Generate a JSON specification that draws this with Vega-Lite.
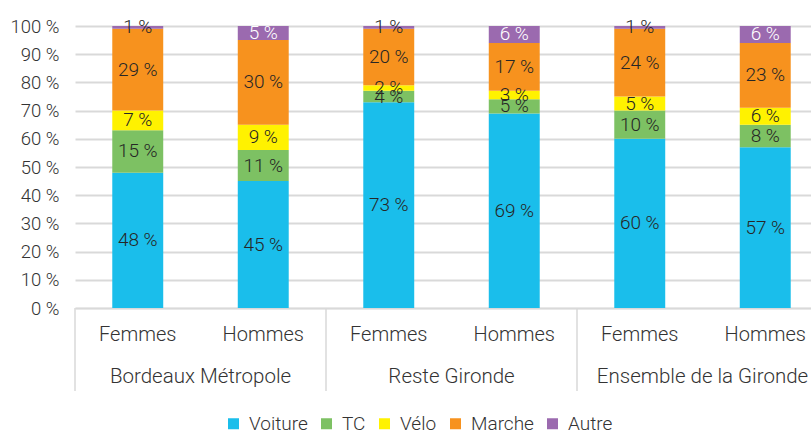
{
  "$schema": "https://vega.github.io/schema/vega-lite/v6.json",
  "width": 736,
  "height": 282,
  "autosize": {"type": "none"},
  "padding": {"left": 75, "top": 26, "right": 0, "bottom": 122},
  "background": "white",
  "config": {
    "font": "Roboto",
    "view": {"stroke": null},
    "axis": {"labelFont": "Roboto", "labelFontSize": 18, "labelFontWeight": 300, "labelColor": "#333333"},
    "legend": {"labelFont": "Roboto", "labelFontSize": 19, "labelFontWeight": 300, "labelColor": "#333333"}
  },
  "resolve": {"scale": {"x": "independent", "y": "independent"}, "axis": {"x": "independent", "y": "independent"}},
  "layer": [
    {
      "data": {
        "values": [
          {"zone": "Bordeaux Métropole", "sexe": "Femmes", "mode": "Voiture", "v": 48},
          {"zone": "Bordeaux Métropole", "sexe": "Femmes", "mode": "TC", "v": 15},
          {"zone": "Bordeaux Métropole", "sexe": "Femmes", "mode": "Vélo", "v": 7},
          {"zone": "Bordeaux Métropole", "sexe": "Femmes", "mode": "Marche", "v": 29},
          {"zone": "Bordeaux Métropole", "sexe": "Femmes", "mode": "Autre", "v": 1},
          {"zone": "Bordeaux Métropole", "sexe": "Hommes", "mode": "Voiture", "v": 45},
          {"zone": "Bordeaux Métropole", "sexe": "Hommes", "mode": "TC", "v": 11},
          {"zone": "Bordeaux Métropole", "sexe": "Hommes", "mode": "Vélo", "v": 9},
          {"zone": "Bordeaux Métropole", "sexe": "Hommes", "mode": "Marche", "v": 30},
          {"zone": "Bordeaux Métropole", "sexe": "Hommes", "mode": "Autre", "v": 5},
          {"zone": "Reste Gironde", "sexe": "Femmes", "mode": "Voiture", "v": 73},
          {"zone": "Reste Gironde", "sexe": "Femmes", "mode": "TC", "v": 4},
          {"zone": "Reste Gironde", "sexe": "Femmes", "mode": "Vélo", "v": 2},
          {"zone": "Reste Gironde", "sexe": "Femmes", "mode": "Marche", "v": 20},
          {"zone": "Reste Gironde", "sexe": "Femmes", "mode": "Autre", "v": 1},
          {"zone": "Reste Gironde", "sexe": "Hommes", "mode": "Voiture", "v": 69},
          {"zone": "Reste Gironde", "sexe": "Hommes", "mode": "TC", "v": 5},
          {"zone": "Reste Gironde", "sexe": "Hommes", "mode": "Vélo", "v": 3},
          {"zone": "Reste Gironde", "sexe": "Hommes", "mode": "Marche", "v": 17},
          {"zone": "Reste Gironde", "sexe": "Hommes", "mode": "Autre", "v": 6},
          {"zone": "Ensemble de la Gironde", "sexe": "Femmes", "mode": "Voiture", "v": 60},
          {"zone": "Ensemble de la Gironde", "sexe": "Femmes", "mode": "TC", "v": 10},
          {"zone": "Ensemble de la Gironde", "sexe": "Femmes", "mode": "Vélo", "v": 5},
          {"zone": "Ensemble de la Gironde", "sexe": "Femmes", "mode": "Marche", "v": 24},
          {"zone": "Ensemble de la Gironde", "sexe": "Femmes", "mode": "Autre", "v": 1},
          {"zone": "Ensemble de la Gironde", "sexe": "Hommes", "mode": "Voiture", "v": 57},
          {"zone": "Ensemble de la Gironde", "sexe": "Hommes", "mode": "TC", "v": 8},
          {"zone": "Ensemble de la Gironde", "sexe": "Hommes", "mode": "Vélo", "v": 6},
          {"zone": "Ensemble de la Gironde", "sexe": "Hommes", "mode": "Marche", "v": 23},
          {"zone": "Ensemble de la Gironde", "sexe": "Hommes", "mode": "Autre", "v": 6}
        ]
      },
      "transform": [
        {"calculate": "datum.zone + '|' + datum.sexe", "as": "key"},
        {"calculate": "indexof(['Voiture','TC','Vélo','Marche','Autre'], datum.mode)", "as": "ord"},
        {"stack": "v", "groupby": ["key"], "sort": [{"field": "ord", "order": "ascending"}], "offset": "normalize", "as": ["y0", "y1"]},
        {"calculate": "(datum.y0 + datum.y1) / 2", "as": "ymid"},
        {"calculate": "datum.v + ' %'", "as": "lab"}
      ],
      "encoding": {
        "x": {
          "field": "key", "type": "nominal", "sort": null, "title": null,
          "scale": {"range": [0, 753], "paddingInner": 0.594, "paddingOuter": 0.297},
          "axis": {
            "labelExpr": "split(datum.label, '|')[1]",
            "labelAngle": 0, "ticks": false, "labelPadding": 16, "labelFontSize": 20,
            "domainColor": "#d9d9d9", "domainWidth": 1.5, "grid": false
          }
        }
      },
      "layer": [
        {
          "mark": {"type": "bar"},
          "encoding": {
            "y": {
              "field": "y0", "type": "quantitative", "title": null,
              "scale": {"domain": [0, 1], "nice": false},
              "axis": {
                "values": [0, 0.1, 0.2, 0.3, 0.4, 0.5, 0.6, 0.7, 0.8, 0.9, 1],
                "labelExpr": "format(datum.value * 100, 'd') + ' %'",
                "labelOverlap": false, "labelFlush": false, "labelFontSize": 18.5,
                "domain": false, "ticks": false, "labelPadding": 16,
                "gridColor": "#d9d9d9", "gridWidth": 2
              }
            },
            "y2": {"field": "y1"},
            "color": {
              "field": "mode", "type": "nominal", "title": null,
              "scale": {
                "domain": ["Voiture", "TC", "Vélo", "Marche", "Autre"],
                "range": ["#1ABEEB", "#7DC163", "#FFF200", "#F7921E", "#9B6AAF"]
              },
              "legend": {
                "orient": "none", "direction": "horizontal", "legendX": 149, "legendY": 388,
                "symbolType": "square", "symbolSize": 121, "symbolStrokeWidth": 0,
                "symbolOpacity": 1, "columnPadding": 9, "labelOffset": 6
              }
            }
          }
        },
        {
          "mark": {"type": "text", "fontSize": 19, "fontWeight": 300, "font": "Roboto", "baseline": "middle"},
          "encoding": {
            "y": {
              "field": "ymid", "type": "quantitative", "title": null,
              "axis": {
                "values": [0, 0.1, 0.2, 0.3, 0.4, 0.5, 0.6, 0.7, 0.8, 0.9, 1],
                "labelExpr": "format(datum.value * 100, 'd') + ' %'",
                "labelOverlap": false, "labelFlush": false, "labelFontSize": 18.5,
                "domain": false, "ticks": false, "labelPadding": 16,
                "gridColor": "#d9d9d9", "gridWidth": 2
              }
            },
            "text": {"field": "lab"},
            "color": {
              "condition": {"test": "datum.mode === 'Autre' && datum.v >= 5", "value": "#ffffff"},
              "value": "#262626"
            }
          }
        }
      ]
    },
    {
      "data": {
        "values": [
          {"zone": "Bordeaux Métropole"},
          {"zone": "Reste Gironde"},
          {"zone": "Ensemble de la Gironde"}
        ]
      },
      "encoding": {
        "x": {
          "field": "zone", "type": "nominal", "sort": null, "axis": null,
          "scale": {"range": [0, 753], "paddingInner": 0, "paddingOuter": 0}
        }
      },
      "layer": [
        {
          "mark": {"type": "rule", "color": "#d9d9d9", "strokeWidth": 1.5},
          "encoding": {
            "x": {"field": "zone", "type": "nominal", "sort": null, "bandPosition": 0},
            "y": {"datum": 0, "type": "quantitative", "axis": null, "scale": {"domain": [0, 1], "nice": false}},
            "y2": {"datum": -0.294}
          }
        },
        {
          "mark": {"type": "text", "fontSize": 20.5, "fontWeight": 300, "font": "Roboto", "baseline": "middle", "color": "#333333"},
          "encoding": {
            "x": {"field": "zone", "type": "nominal", "sort": null, "bandPosition": 0.5},
            "y": {"datum": -0.245, "type": "quantitative", "axis": null, "scale": {"domain": [0, 1], "nice": false}},
            "text": {"field": "zone"}
          }
        }
      ]
    }
  ]
}
